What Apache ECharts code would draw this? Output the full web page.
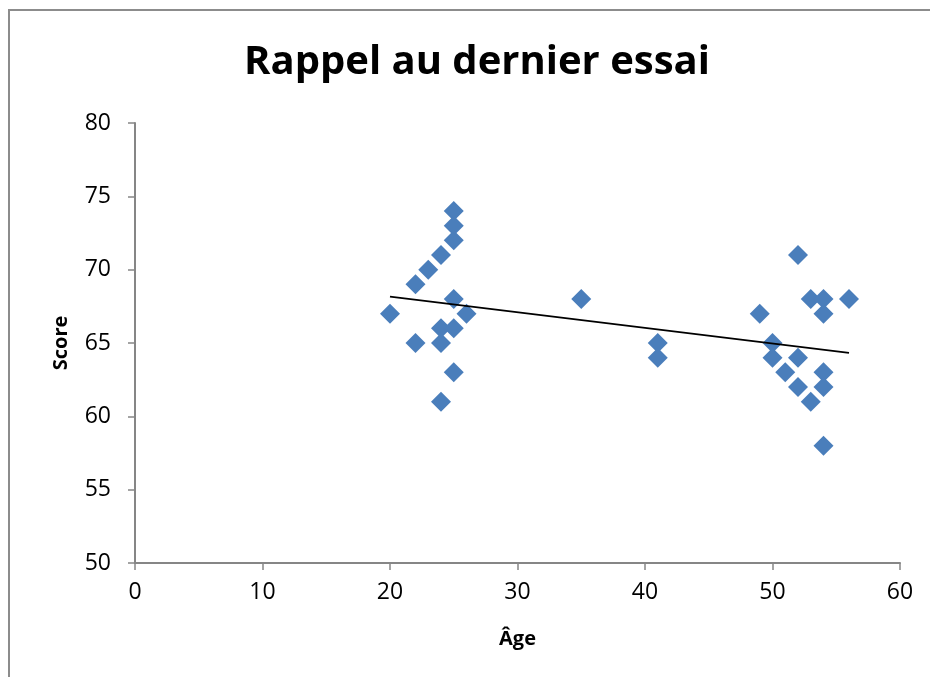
<!DOCTYPE html>
<html>
<head>
<meta charset="utf-8">
<title>Rappel au dernier essai</title>
<script src="https://cdn.jsdelivr.net/npm/echarts@6/dist/echarts.min.js"></script>
<style>
	html, body { margin: 0; padding: 0; background: #fff; }
	#chart { width: 930px; height: 677px; }
</style>
</head>
<body>
<div id="chart"></div>
<script>
// âge et score de chaque participant
var ages = [20, 22, 22, 23, 24, 24, 24, 24, 25, 25, 25, 25, 25, 25, 26,
	35, 41, 41,
	49, 50, 50, 51, 52, 52, 52, 53, 53, 54, 54, 54, 54, 54, 56];
var scores = [67, 69, 65, 70, 71, 66, 65, 61, 74, 73, 72, 68, 66, 63, 67,
	68, 65, 64,
	67, 65, 64, 63, 71, 64, 62, 68, 61, 68, 67, 63, 62, 58, 68];
var xTicks = [0, 10, 20, 30, 40, 50, 60];
var yTicks = [50, 55, 60, 65, 70, 75, 80];

var font = '"Open Sans", "Noto Sans", sans-serif';

// droite de tendance (moindres carrés)
function trend(xs, ys) {
	var n = xs.length, sx = 0, sy = 0, sxx = 0, sxy = 0;
	for (var i = 0; i < n; i++) {
		sx += xs[i]; sy += ys[i];
		sxx += xs[i] * xs[i]; sxy += xs[i] * ys[i];
	}
	var b = (n * sxy - sx * sy) / (n * sxx - sx * sx);
	var a = (sy - b * sx) / n;
	var x0 = Math.min.apply(null, xs), x1 = Math.max.apply(null, xs);
	return [[x0, a + b * x0], [x1, a + b * x1]];
}

var points = ages.map(function (a, i) { return [a, scores[i]]; });

var myChart = echarts.init(document.getElementById('chart'));
var axisGray = '#868686';
var option = {
	animation: false,
	graphic: [
		{
			type: 'rect',
			shape: { x: 9, y: 10, width: 1000, height: 1000 },
			style: { fill: 'none', stroke: '#8c8c8c', lineWidth: 2 },
			silent: true
		},
		{
			type: 'text',
			x: 477,
			y: 63,
			style: {
				text: 'Rappel au dernier essai',
				font: 'bold 40px ' + font,
				fill: '#000',
				textAlign: 'center',
				textVerticalAlign: 'middle'
			}
		}
	],
	grid: {
		left: 135,
		right: 30,
		top: 123,
		bottom: 114
	},
	xAxis: {
		type: 'value',
		min: xTicks[0],
		max: xTicks[xTicks.length - 1],
		interval: 10,
		name: 'Âge',
		nameLocation: 'middle',
		nameGap: 66,
		nameTextStyle: { fontFamily: font, fontWeight: 'bold', fontSize: 20, color: '#000' },
		axisLine: { show: true, lineStyle: { color: axisGray, width: 2 } },
		axisTick: { show: true, length: 7, lineStyle: { color: axisGray, width: 1.5 } },
		axisLabel: { fontFamily: font, fontSize: 23, color: '#000', margin: 18 },
		splitLine: { show: false }
	},
	yAxis: {
		type: 'value',
		min: yTicks[0],
		max: yTicks[yTicks.length - 1],
		interval: 5,
		name: 'Score',
		nameLocation: 'middle',
		nameGap: 64,
		nameTextStyle: { fontFamily: font, fontWeight: 'bold', fontSize: 20, color: '#000' },
		axisLine: { show: true, lineStyle: { color: axisGray, width: 2 } },
		axisTick: { show: true, length: 7, lineStyle: { color: axisGray, width: 1.5 } },
		axisLabel: { fontFamily: font, fontSize: 23, color: '#000', margin: 24 },
		splitLine: { show: false }
	},
	series: [
		{
			type: 'scatter',
			symbol: 'diamond',
			symbolSize: 20,
			itemStyle: { color: '#4a7ebb', opacity: 1 },
			data: points,
			z: 2
		},
		{
			type: 'line',
			data: trend(ages, scores),
			symbol: 'none',
			lineStyle: { color: '#000', width: 1.8 },
			z: 3
		}
	]
};
myChart.setOption(option);
</script>
</body>
</html>
